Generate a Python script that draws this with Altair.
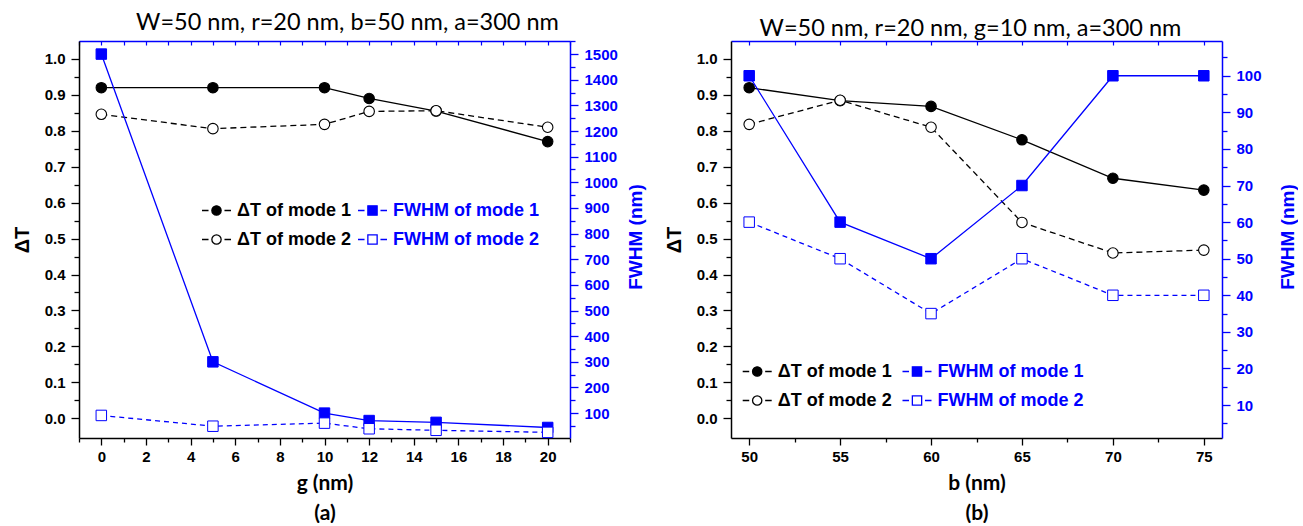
import json
import altair as alt
import pandas as pd

# ---------------- data ----------------
# panel (a): W=50 nm, r=20 nm, b=50 nm, a=300 nm
g_nm = [0, 5, 10, 12, 15, 20]
dT_mode1_a = [0.92, 0.92, 0.92, 0.89, 0.855, 0.77]
dT_mode2_a = [0.846, 0.806, 0.818, 0.854, 0.856, 0.81]
fwhm_mode1_a = [1500, 300, 100, 71, 64, 44]
fwhm_mode2_a = [91, 49, 61, 39, 33, 25]

# panel (b): W=50 nm, r=20 nm, g=10 nm, a=300 nm
b_nm = [50, 55, 60, 65, 70, 75]
dT_mode1_b = [0.92, 0.884, 0.868, 0.775, 0.668, 0.635]
dT_mode2_b = [0.818, 0.885, 0.81, 0.545, 0.46, 0.468]
fwhm_mode1_b = [100, 60, 50, 70, 100, 100]
fwhm_mode2_b = [60, 50, 35, 50, 40, 40]

DT_SERIES = ["ΔT of mode 1", "ΔT of mode 2"]
FW_SERIES = ["FWHM of mode 1", "FWHM of mode 2"]

# tick positions
DT_MAJOR = [round(0.1 * i, 1) for i in range(11)]
DT_MINOR = [round(0.05 + 0.1 * i, 2) for i in range(10)]
XA_MAJOR = list(range(0, 21, 2))
XA_MINOR = list(range(-1, 22, 2))
XB_MAJOR = [50, 55, 60, 65, 70, 75]
XB_MINOR = [52.5, 57.5, 62.5, 67.5, 72.5]
FA_MAJOR = list(range(100, 1501, 100))
FA_MINOR = list(range(50, 1551, 100))
FB_MAJOR = list(range(10, 101, 10))
FB_MINOR = list(range(5, 106, 10))

# ---------------- style ----------------
BLUE = "#0000FF"
W, H = 491, 397
LF = "Liberation Sans"
TF = "Lato"
DT_DOMAIN = [-0.055, 1.05]

CIRCLE_PATH = ("M-1,0L-0.55,0M0.55,0L1,0M0.32,0A0.32,0.32,0,1,1,-0.32,0"
               "A0.32,0.32,0,1,1,0.32,0Z")
SQUARE_PATH = ("M-1,0L-0.55,0M0.55,0L1,0M-0.32,-0.32L0.32,-0.32L0.32,0.32"
               "L-0.32,0.32Z")


def long_df(xs, s1, s2, names):
    return pd.DataFrame({
        "x": xs + xs,
        "value": s1 + s2,
        "series": [names[0]] * len(xs) + [names[1]] * len(xs),
    })


def ticks(major, minor, fmt, big, small):
    test = f"indexof({json.dumps(major)}, datum.value) >= 0"
    return dict(values=sorted(major + minor), format=fmt,
                labelExpr=f"{test} ? datum.label : ''",
                tickSize={"condition": {"test": test, "value": big}, "value": small},
                labelOverlap=False, labelFlush=False)


def legend(x, y, path, color):
    return alt.Legend(title=None, orient="none", legendX=x, legendY=y,
                      direction="vertical", symbolType=path, symbolSize=841,
                      symbolStrokeColor=color, symbolStrokeWidth=1.3,
                      labelColor=color, labelFont=LF, labelFontSize=18,
                      labelFontWeight="bold", labelOffset=5, rowPadding=4,
                      padding=0, labelLimit=400)


def panel(xs, dt1, dt2, fw1, fw2, title, title_dx, x_title, x_domain,
          x_major, x_minor, fw_domain, fw_major, fw_minor, dt_leg, fw_leg):
    dt_df = long_df(xs, dt1, dt2, DT_SERIES)
    fw_df = long_df(xs, fw1, fw2, FW_SERIES)
    xscale = alt.Scale(domain=x_domain, nice=False, zero=False)

    x_bottom = alt.Axis(
        orient="bottom", title=x_title, **ticks(x_major, x_minor, "d", 7, 4),
        labelFont=LF, labelFontSize=15, labelFontWeight="bold",
        labelColor="black", labelPadding=4, domainColor="black",
        tickColor="black", domainWidth=1.5, tickWidth=1.3,
        titleFont=TF, titleFontSize=21, titleFontWeight="bold",
        titleColor="black", titleLineHeight=30, titleBaseline="top",
        titleAlign="center", titleX=W / 2, titleY=34)
    x_top = alt.Axis(
        orient="bottom", offset=-H, title=None, labels=False,
        values=sorted(x_major + x_minor), tickSize=4, domainColor=BLUE,
        tickColor=BLUE, domainWidth=1.5, tickWidth=1.2)

    dt_axis = alt.Axis(
        orient="left", title="ΔT", **ticks(DT_MAJOR, DT_MINOR, ".1f", 8, 5),
        labelFont=LF, labelFontSize=15, labelFontWeight="bold",
        labelColor="black", labelPadding=6, domainColor="black",
        tickColor="black", domainWidth=1.5, tickWidth=1.3,
        titleFont=LF, titleFontSize=20, titleFontWeight="bold",
        titleColor="black", titleAngle=270, titleX=-57, titleY=H / 2,
        titleBaseline="middle", titleAlign="center")
    fw_axis = alt.Axis(
        orient="right", title="FWHM (nm)", **ticks(fw_major, fw_minor, "d", 8, 5),
        labelFont=LF, labelFontSize=15, labelFontWeight="bold",
        labelColor=BLUE, labelPadding=6, domainColor=BLUE,
        tickColor=BLUE, domainWidth=1.5, tickWidth=1.3,
        titleFont=LF, titleFontSize=19, titleFontWeight="bold",
        titleColor=BLUE, titleAngle=270, titleX=65.5, titleY=H / 2 - 3,
        titleBaseline="middle", titleAlign="center")

    x_main = alt.X("x:Q", scale=xscale, axis=x_bottom)
    x_sec = alt.X("x:Q", scale=xscale, axis=x_top)
    y_dt = alt.Y("value:Q", scale=alt.Scale(domain=DT_DOMAIN, nice=False, zero=False), axis=dt_axis)
    y_fw = alt.Y("value:Q", scale=alt.Scale(domain=fw_domain, nice=False, zero=False), axis=fw_axis)

    bdt = alt.Chart(dt_df)
    dl1 = bdt.transform_filter(alt.datum.series == DT_SERIES[0]).mark_line(
        color="black", strokeWidth=1.3).encode(x=x_main, y=y_dt)
    dl2 = bdt.transform_filter(alt.datum.series == DT_SERIES[1]).mark_line(
        color="black", strokeWidth=1.3, strokeDash=[6, 4]).encode(x=x_main, y=y_dt)
    dp = bdt.mark_point(shape="circle", filled=True, size=110, stroke="black",
                        strokeWidth=1.1, opacity=1).encode(
        x=x_main, y=y_dt,
        fill=alt.Fill("series:N", scale=alt.Scale(domain=DT_SERIES, range=["black", "white"]),
                      legend=legend(dt_leg[0], dt_leg[1], CIRCLE_PATH, "black")))

    bfw = alt.Chart(fw_df)
    fl1 = bfw.transform_filter(alt.datum.series == FW_SERIES[0]).mark_line(
        color=BLUE, strokeWidth=1.3).encode(x=x_sec, y=y_fw)
    fl2 = bfw.transform_filter(alt.datum.series == FW_SERIES[1]).mark_line(
        color=BLUE, strokeWidth=1.3, strokeDash=[5, 4]).encode(x=x_sec, y=y_fw)
    fp = bfw.mark_point(shape="square", filled=True, size=110, stroke=BLUE,
                        strokeWidth=1.0, opacity=1).encode(
        x=x_sec, y=y_fw,
        fill=alt.Fill("series:N", scale=alt.Scale(domain=FW_SERIES, range=[BLUE, "white"]),
                      legend=legend(fw_leg[0], fw_leg[1], SQUARE_PATH, BLUE)))

    return alt.layer(
        alt.layer(dl1, dl2, dp),
        alt.layer(fl1, fl2, fp),
    ).resolve_scale(y="independent", fill="independent").resolve_axis(
        x="independent").properties(
        width=W, height=H,
        title=alt.Title(title, font=TF, fontSize=23.5, fontWeight="normal",
                        color="black", anchor="middle", frame="group",
                        dx=title_dx, offset=0))


pa = panel(g_nm, dT_mode1_a, dT_mode2_a, fwhm_mode1_a, fwhm_mode2_a,
           "W=50 nm, r=20 nm, b=50 nm, a=300 nm", 23, ["g (nm)", "(a)"],
           [-1, 21], XA_MAJOR, XA_MINOR, [3, 1551], FA_MAJOR, FA_MINOR,
           (122, 154), (278, 154))
pb = panel(b_nm, dT_mode1_b, dT_mode2_b, fwhm_mode1_b, fwhm_mode2_b,
           "W=50 nm, r=20 nm, g=10 nm, a=300 nm", -6, ["b (nm)", "(b)"],
           [49, 76], XB_MAJOR, XB_MINOR, [1, 109.5], FB_MAJOR, FB_MINOR,
           (10.7, 315), (170.5, 315))

chart = alt.hconcat(pa, pb, spacing=18).properties(
    padding={"left": 12, "top": 10, "right": 0, "bottom": 0}
).configure_view(strokeWidth=0).configure_axis(grid=False)

chart.save("out.html", embed_options={"renderer": "svg", "actions": False})
